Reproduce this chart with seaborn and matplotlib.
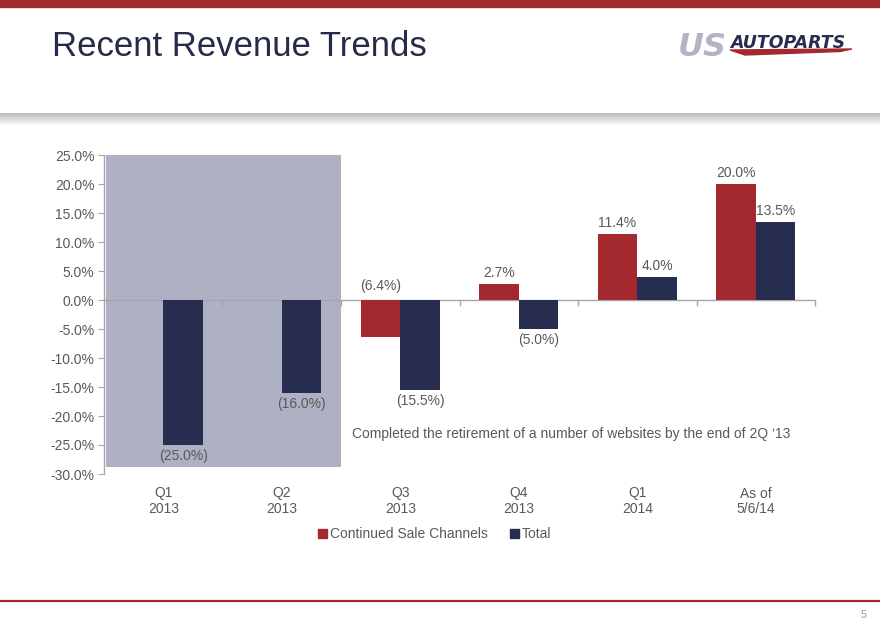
import numpy as np
import pandas as pd
import matplotlib.pyplot as plt
import matplotlib.patches as mpatches
import matplotlib.colors as mcolors
import seaborn as sns

# data
periods = ["Q1\n2013", "Q2\n2013", "Q3\n2013", "Q4\n2013", "Q1\n2014", "As of\n5/6/14"]
continued = [np.nan, np.nan, -6.4, 2.7, 11.4, 20.0]
total = [-25.0, -16.0, -15.5, -5.0, 4.0, 13.5]
series_names = ["Continued Sale Channels", "Total"]
yticks = [25, 20, 15, 10, 5, 0, -5, -10, -15, -20, -25, -30]
note = "Completed the retirement of a number of websites by the end of 2Q \u201813"

RED = "#A3292F"
NAVY = "#272D4E"
SHADE = "#AEB0C4"
GREY_TXT = "#595959"
AXIS = "#A6A6A6"

sns.set_style("white")
plt.rcParams["font.family"] = ["Liberation Sans", "DejaVu Sans"]

df = pd.DataFrame({
    "period": periods * 2,
    "series": [series_names[0]] * len(periods) + [series_names[1]] * len(periods),
    "value": continued + total,
})

W, H = 880, 629
fig = plt.figure(figsize=(8.8, 6.29), dpi=100)

# ---- header / footer decoration
fig.patches.append(mpatches.Rectangle((0, 1 - 7 / H), 1, 7 / H, transform=fig.transFigure,
                                      color=RED, zorder=0))
gax = fig.add_axes([0, 1 - 126 / H, 1, 13 / H])
grad = np.linspace(0, 1, 50).reshape(-1, 1)
gax.imshow(grad, aspect="auto", cmap=mcolors.LinearSegmentedColormap.from_list("g", ["#BBBBBB", "#FFFFFF"]),
           extent=[0, 1, 0, 1])
gax.axis("off")

fig.text(52 / W, 1 - 47 / H, "Recent Revenue Trends", fontsize=25, color="#262B4A",
         va="center", ha="left")

# logo
fig.text(678 / W, 1 - 47 / H, "US", fontsize=23, fontweight="bold", fontstyle="italic",
         color="#B2B4C4", va="center", ha="left", family="DejaVu Sans")
fig.text(730 / W, 1 - 43 / H, "AUTOPARTS", fontsize=12.5, fontweight="bold", fontstyle="italic",
         color=NAVY, va="center", ha="left", family="DejaVu Sans")
swoosh = mpatches.Polygon([(730 / W, 1 - 50 / H), (852 / W, 1 - 49 / H), (840 / W, 1 - 51.5 / H),
                           (745 / W, 1 - 55 / H)], closed=True, transform=fig.transFigure,
                          color=RED)
fig.patches.append(swoosh)

fig.lines.append(plt.Line2D([0, 1], [1 - 601 / H] * 2, transform=fig.transFigure,
                            color=RED, lw=1.6))
fig.text(863 / W, 1 - 615 / H, "5", fontsize=7.5, color="#999999", ha="center", va="center")

# ---- chart
ax = fig.add_axes([104 / W, 155 / H, 711 / W, 319 / H])
sns.barplot(data=df, x="period", y="value", hue="series", order=periods,
            hue_order=series_names, palette=[RED, NAVY], width=0.67, saturation=1,
            legend=False, ax=ax, zorder=3, linewidth=0)

ymin, ymax = -30, 25
ax.set_ylim(ymin, ymax)
ax.set_xlim(-0.5, len(periods) - 0.5)

# shaded box over the first two quarters (retired websites)
ax.axvspan(-0.48, 1.5, ymin=0.022, ymax=1.0, color=SHADE, zorder=1, lw=0)

ax.set_yticks(yticks)
ax.set_yticklabels([f"{v:.1f}%" for v in yticks], fontsize=10, color=GREY_TXT)
ax.tick_params(axis="y", length=4, color=AXIS, direction="out", pad=3, left=True)
ax.tick_params(axis="x", length=0, pad=9, labelsize=10, labelcolor=GREY_TXT)
ax.set_xticks(range(len(periods)))
ax.set_xticklabels(periods, linespacing=1.15)
ax.set_xlabel("")
ax.set_ylabel("")
for s in ["top", "right", "bottom"]:
    ax.spines[s].set_visible(False)
ax.spines["left"].set_color(AXIS)
ax.spines["left"].set_linewidth(1)

# zero axis with boundary ticks pointing down
zero = ax.secondary_xaxis((0 - ymin) / (ymax - ymin))
zero.set_xticks(np.arange(0.5, len(periods), 1.0))
zero.set_xticklabels([])
zero.tick_params(length=4, color=AXIS, direction="in", width=1)
for sp in zero.spines.values():
    sp.set_color(AXIS)
    sp.set_linewidth(1)
zero.set_zorder(2)

# data labels
off = 0.67 / 4
for vals, dx in [(continued, -off), (total, off)]:
    for i, v in enumerate(vals):
        if np.isnan(v):
            continue
        txt = f"{v:.1f}%" if v >= 0 else f"({abs(v):.1f}%)"
        if v >= 0:
            ax.annotate(txt, (i + dx, v), xytext=(0, 3), textcoords="offset points",
                        ha="center", va="bottom", fontsize=10, color=GREY_TXT, zorder=5)
        elif dx < 0:
            ax.annotate(txt, (i + dx, 0), xytext=(0, 5), textcoords="offset points",
                        ha="center", va="bottom", fontsize=10, color=GREY_TXT, zorder=5)
        else:
            ax.annotate(txt, (i + dx, v), xytext=(0, -3), textcoords="offset points",
                        ha="center", va="top", fontsize=10, color=GREY_TXT, zorder=5)

fig.text(352 / W, 1 - 434 / H, note, fontsize=10, color=GREY_TXT, va="center", ha="left")

handles = [mpatches.Patch(color=RED, label=series_names[0]),
           mpatches.Patch(color=NAVY, label=series_names[1])]
leg = fig.legend(handles=handles, loc="center", bbox_to_anchor=(435 / W, 1 - 534 / H), ncol=2,
                 frameon=False, fontsize=10, handlelength=0.6, handleheight=0.6,
                 handletextpad=0.25, columnspacing=1.6)
for t in leg.get_texts():
    t.set_color(GREY_TXT)

fig.savefig("out.png", dpi=100)
